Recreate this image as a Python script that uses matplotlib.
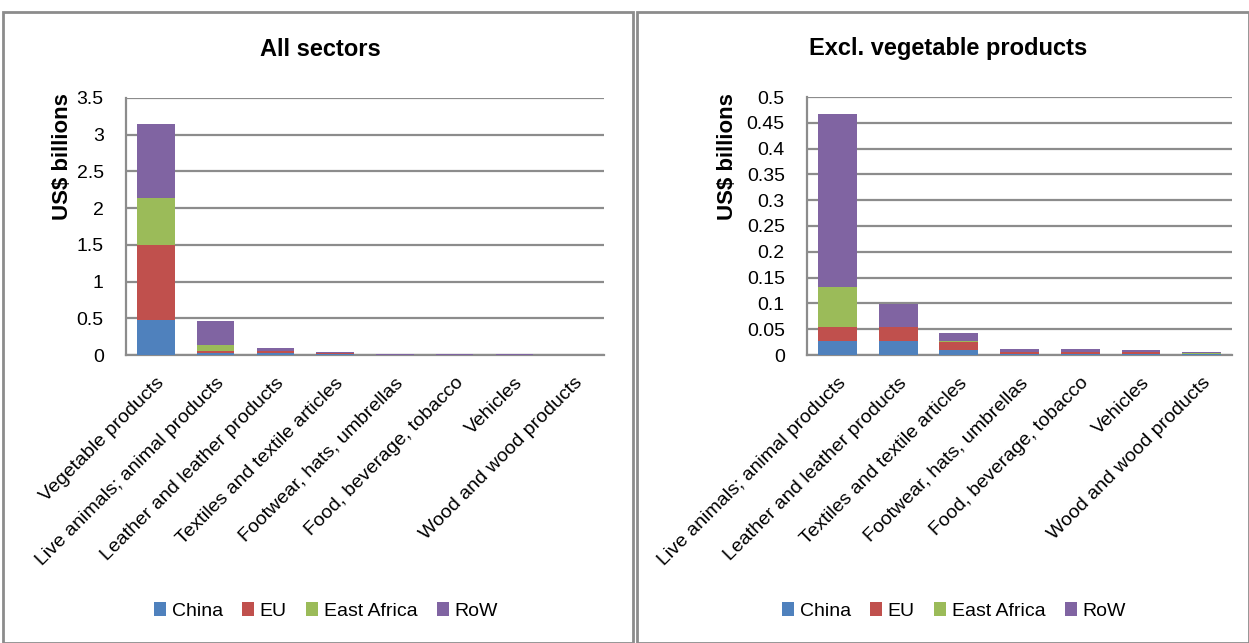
import matplotlib
matplotlib.use("Agg")
import matplotlib.pyplot as plt
from matplotlib.patches import Rectangle, Patch
import numpy as np

# Sector categories
sectors_all = ["Vegetable products", "Live animals; animal products",
               "Leather and leather products", "Textiles and textile articles",
               "Footwear, hats, umbrellas", "Food, beverage, tobacco",
               "Vehicles", "Wood and wood products"]
sectors_excl = sectors_all[1:]

# Exports by destination, US$ billions (same order as sectors_all)
china = [0.48, 0.027, 0.027, 0.009, 0.001, 0.001, 0.001, 0.002]
eu = [1.02, 0.028, 0.028, 0.017, 0.004, 0.004, 0.004, 0.0005]
east_africa = [0.64, 0.076, 0.0, 0.001, 0.001, 0.0005, 0.0005, 0.001]
row = [1.01, 0.337, 0.044, 0.016, 0.006, 0.006, 0.005, 0.0015]

series_names = ["China", "EU", "East Africa", "RoW"]
colors = ["#4F81BD", "#C0504D", "#9BBB59", "#8064A2"]

yticks_all = [0, 0.5, 1, 1.5, 2, 2.5, 3, 3.5]
yticks_excl = [0, 0.05, 0.1, 0.15, 0.2, 0.25, 0.3, 0.35, 0.4, 0.45, 0.5]

W, H = 1249, 643
fig = plt.figure(figsize=(W / 100, H / 100), dpi=100)

FONT = ["Liberation Sans", "DejaVu Sans"]
GRID = "#8c8c8c"


def px_axes(l, t, r, b):
    return fig.add_axes([l / W, 1 - b / H, (r - l) / W, (b - t) / H])


def draw_panel(ax, box, cats, data, yticks, title, bar_w, title_xy,
               legend_xy, ylabel_xy):
    x = np.arange(len(cats))
    bottom = np.zeros(len(cats))
    for vals, c in zip(data, colors):
        vals = np.asarray(vals, dtype=float)
        ax.bar(x, vals, bar_w, bottom=bottom, color=c, edgecolor="none",
               zorder=3)
        bottom += vals
    ax.set_xlim(-0.5, len(cats) - 0.5)
    ax.set_ylim(0, yticks[-1])
    ax.set_yticks(yticks)
    ax.set_yticklabels([f"{v:g}" for v in yticks], family=FONT, fontsize=14)
    ax.set_xticks(x)
    ax.set_xticklabels(cats, rotation=45, ha="right", rotation_mode="anchor",
                       family=FONT, fontsize=14)
    ax.tick_params(axis="y", length=0, pad=16)
    ax.tick_params(axis="x", length=0, pad=14)
    ax.grid(axis="y", color=GRID, linewidth=1.6, zorder=0)
    for s in ["top", "right"]:
        ax.spines[s].set_visible(False)
    for s in ["left", "bottom"]:
        ax.spines[s].set_color(GRID)
        ax.spines[s].set_linewidth(1.6)
    ax.set_ylabel("US$ billions", family=FONT, fontsize=16, fontweight="bold")
    l, t, r, b = box
    ax.yaxis.set_label_coords((ylabel_xy[0] - l) / (r - l),
                              (b - ylabel_xy[1]) / (b - t))
    fig.text(title_xy[0] / W, 1 - title_xy[1] / H, title, family=FONT,
             fontsize=17, fontweight="bold", ha="center", va="center")
    handles = [Patch(facecolor=c, edgecolor="none") for c in colors]
    fig.legend(handles, series_names, loc="center",
               bbox_to_anchor=(legend_xy[0] / W, 1 - legend_xy[1] / H),
               ncol=4, frameon=False, prop={"family": FONT, "size": 14},
               handlelength=0.6, handleheight=0.7, handletextpad=0.3,
               columnspacing=1.0)


# Panel frames
fig.add_artist(Rectangle((3 / W, 0), (630 / W), (H - 12) / H,
                         transform=fig.transFigure, fill=False,
                         edgecolor="#8c8c8c", linewidth=2))
fig.add_artist(Rectangle((637 / W, 0), (W - 637) / W, (H - 12) / H,
                         transform=fig.transFigure, fill=False,
                         edgecolor="#8c8c8c", linewidth=2))

box1 = (126, 98, 604, 355)
ax1 = px_axes(*box1)
draw_panel(ax1, box1, sectors_all, [china, eu, east_africa, row], yticks_all,
           "All sectors", 0.63, (320, 49), (326, 611), (73, 157))

box2 = (807, 97, 1232, 355)
ax2 = px_axes(*box2)
draw_panel(ax2, box2, sectors_excl,
           [china[1:], eu[1:], east_africa[1:], row[1:]], yticks_excl,
           "Excl. vegetable products", 0.64, (948, 49), (954, 611), (738, 157))

fig.savefig("out.png", dpi=100)
